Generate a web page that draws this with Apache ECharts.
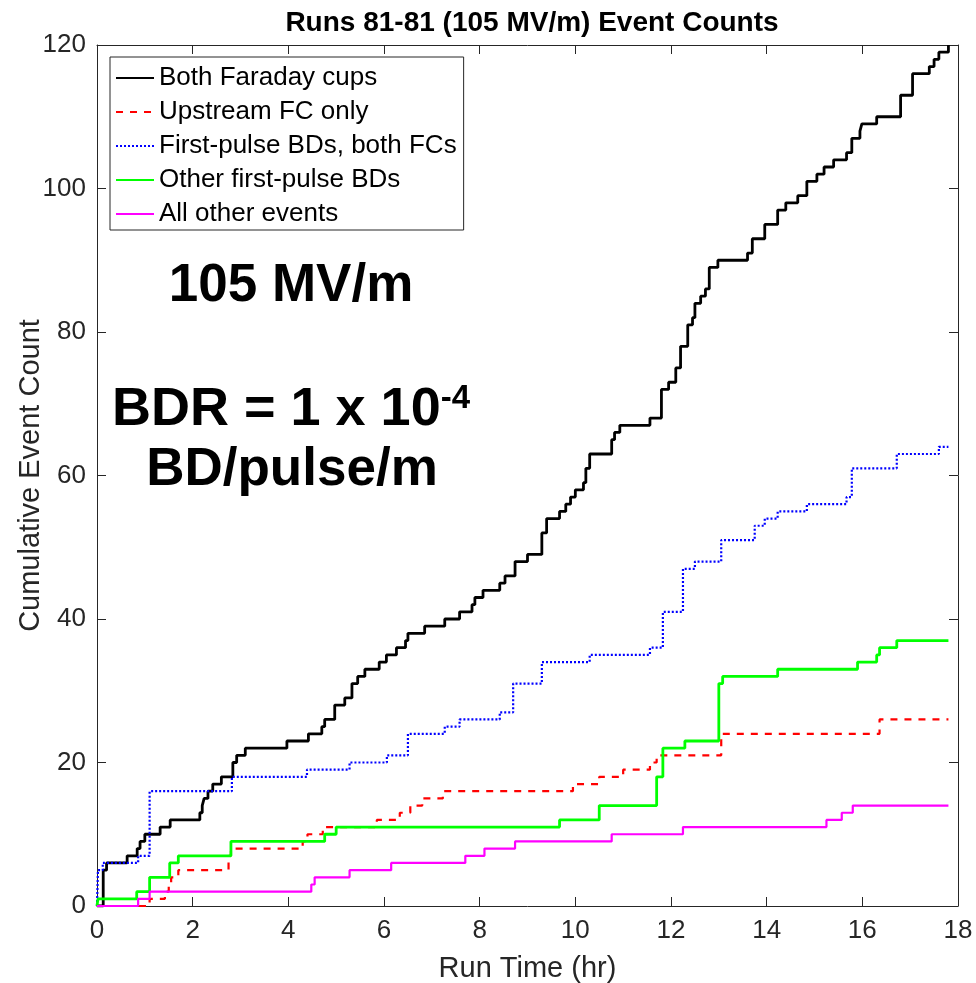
<!DOCTYPE html>
<html>
<head>
<meta charset="utf-8">
<script src="https://cdn.jsdelivr.net/npm/echarts@6/dist/echarts.min.js"></script>
<style>html,body{margin:0;padding:0;background:#fff}#c{width:976px;height:983px}</style>
</head>
<body>
<div id="c"></div>
<script>
var xTicks = [0, 2, 4, 6, 8, 10, 12, 14, 16, 18];
var yTicks = [0, 20, 40, 60, 80, 100, 120];
var seriesNames = ['Both Faraday cups', 'Upstream FC only', 'First-pulse BDs, both FCs', 'Other first-pulse BDs', 'All other events'];

var bothFC = [[0,0],[0.13,5],[0.2,6],[0.63,7],[0.84,8],[0.9,9],[1.0,10],[1.32,11],[1.53,12],[2.15,13],[2.2,14],[2.24,15],[2.32,16],[2.42,17],[2.6,18],[2.84,20],[2.92,21],[3.1,22],[3.97,23],[4.42,24],[4.7,25],[4.76,26],[4.97,28],[5.18,29],[5.33,31],[5.45,32],[5.6,33],[5.9,34],[6.05,35],[6.26,36],[6.45,37],[6.5,38],[6.85,39],[7.27,40],[7.58,41],[7.84,42],[7.9,43],[8.07,44],[8.42,45],[8.53,46],[8.74,48],[9.0,49],[9.3,52],[9.4,54],[9.67,55],[9.8,56],[9.9,57],[10.0,58],[10.17,59],[10.22,61],[10.3,63],[10.76,65],[10.82,66],[10.93,67],[11.56,68],[11.8,72],[11.95,73],[12.1,75],[12.2,78],[12.35,81],[12.45,82],[12.5,84],[12.62,85],[12.72,86],[12.8,89],[12.98,90],[13.6,91],[13.7,93],[13.96,95],[14.23,97],[14.4,98],[14.65,99],[14.84,101],[15.05,102],[15.2,103],[15.4,104],[15.67,105],[15.78,107],[15.95,108],[15.99,109],[16.3,110],[16.8,113],[17.05,116],[17.4,117],[17.5,118],[17.6,119],[17.8,120]];
var upstreamFC = [[0,0],[1.1,1],[1.42,2],[1.5,3],[1.55,4],[1.7,5],[2.75,7],[2.8,8],[4.3,9],[4.4,10],[4.72,11],[5.85,12],[6.33,13],[6.55,14],[6.8,15],[7.23,16],[9.95,17],[10.5,18],[11.0,19],[11.56,20],[11.7,21],[13.05,24],[16.36,26],[17.8,26]];
var firstPulseBoth = [[0,0],[0.02,5],[0.12,6],[0.86,7],[1.1,16],[2.82,18],[4.39,19],[5.28,20],[6.06,21],[6.5,24],[7.27,25],[7.58,26],[8.42,27],[8.7,31],[9.3,34],[10.3,35],[11.56,36],[11.83,41],[12.25,47],[12.5,48],[13.05,51],[13.75,53],[13.96,54],[14.23,55],[14.84,56],[15.67,57],[15.78,61],[16.72,63],[17.6,64],[17.8,64]];
var otherFirstPulse = [[0,0],[0.02,1],[0.83,2],[1.1,4],[1.52,6],[1.7,7],[2.8,9],[4.76,10],[5.0,11],[9.67,12],[10.5,14],[11.7,18],[11.83,22],[12.29,23],[13.0,31],[13.08,32],[14.23,33],[15.9,34],[16.3,35],[16.36,36],[16.72,37],[17.8,37]];
var allOther = [[0,0],[0.86,1],[1.1,2],[4.48,3],[4.55,4],[5.28,5],[6.15,6],[7.7,7],[8.1,8],[8.74,9],[10.76,10],[12.25,11],[15.25,12],[15.57,13],[15.8,14],[17.8,14]];

var FONT = "'Liberation Sans', Arial, sans-serif";
var AX = '#262626';
var chart = echarts.init(document.getElementById('c'), null, {renderer: 'canvas'});

function mk(name, data, color, type, width) {
  return {
    name: name, type: 'line', step: 'end', data: data, symbol: 'none', showSymbol: false,
    xAxisIndex: 0, yAxisIndex: 0, animation: false,
    lineStyle: {color: color, width: width, type: type}, itemStyle: {color: color}
  };
}

function axisCommon() {
  return {
    axisLine: {show: true, onZero: false, lineStyle: {color: AX, width: 1}},
    axisTick: {show: true, inside: true, length: 9, lineStyle: {color: AX, width: 1}},
    splitLine: {show: false}
  };
}

chart.setOption({
  animation: false,
  backgroundColor: '#fff',
  title: {
    text: 'Runs 81-81 (105 MV/m) Event Counts', left: 527, top: 4, textAlign: 'center',
    textStyle: {fontFamily: FONT, fontSize: 28, fontWeight: 'bold', color: '#000'}
  },
  grid: {left: 97, top: 45, right: 18, bottom: 77, containLabel: false, outerBoundsMode: 'none'},
  legend: {
    orient: 'vertical', left: 110, top: 57, padding: [8, 7, 3, 5], itemGap: 8,
    itemWidth: 38, itemHeight: 14, borderColor: AX, borderWidth: 1, backgroundColor: '#fff',
    itemStyle: {opacity: 0},
    data: seriesNames,
    textStyle: {fontFamily: FONT, fontSize: 26, color: '#000'}
  },
  xAxis: [
    Object.assign({type: 'value', min: 0, max: 18, interval: 2, position: 'bottom',
      name: 'Run Time (hr)', nameLocation: 'middle', nameGap: 48, nameMoveOverlap: false,
      nameTextStyle: {fontFamily: FONT, fontSize: 29, color: AX},
      axisLabel: {fontFamily: FONT, fontSize: 26, color: AX, margin: 12}}, axisCommon()),
    Object.assign({type: 'value', min: 0, max: 18, interval: 2, position: 'top', axisLabel: {show: false}}, axisCommon())
  ],
  yAxis: [
    Object.assign({type: 'value', min: 0, max: 120, interval: 20, position: 'left',
      name: 'Cumulative Event Count', nameLocation: 'middle', nameGap: 52, nameMoveOverlap: false,
      nameTextStyle: {fontFamily: FONT, fontSize: 29, color: AX},
      axisLabel: {fontFamily: FONT, fontSize: 26, color: AX, margin: 11}}, axisCommon()),
    Object.assign({type: 'value', min: 0, max: 120, interval: 20, position: 'right', axisLabel: {show: false}}, axisCommon())
  ],
  series: [
    mk(seriesNames[0], bothFC, '#000000', 'solid', 2.8),
    mk(seriesNames[1], upstreamFC, '#ff0000', [7, 7], 2.2),
    mk(seriesNames[2], firstPulseBoth, '#0000ff', [2, 2], 2.2),
    mk(seriesNames[3], otherFirstPulse, '#00ff00', 'solid', 2.8),
    mk(seriesNames[4], allOther, '#ff00ff', 'solid', 2.2)
  ],
  graphic: [
    {type: 'text', style: {x: 291, y: 286, text: '105 MV/m', align: 'center', verticalAlign: 'middle', fontFamily: FONT, fontSize: 53, fontWeight: 'bold', fill: '#000'}},
    {type: 'text', style: {x: 291, y: 410, text: '{a|BDR = 1 x 10}{s|-4}', align: 'center', verticalAlign: 'middle',
      rich: {a: {fontFamily: FONT, fontSize: 54, fontWeight: 'bold', fill: '#000', lineHeight: 56}, s: {fontFamily: FONT, fontSize: 33, fontWeight: 'bold', fill: '#000', verticalAlign: 'top', lineHeight: 56}}}},
    {type: 'text', style: {x: 292, y: 470, text: 'BD/pulse/m', align: 'center', verticalAlign: 'middle', fontFamily: FONT, fontSize: 53, fontWeight: 'bold', fill: '#000'}}
  ]
});
</script>
</body>
</html>
